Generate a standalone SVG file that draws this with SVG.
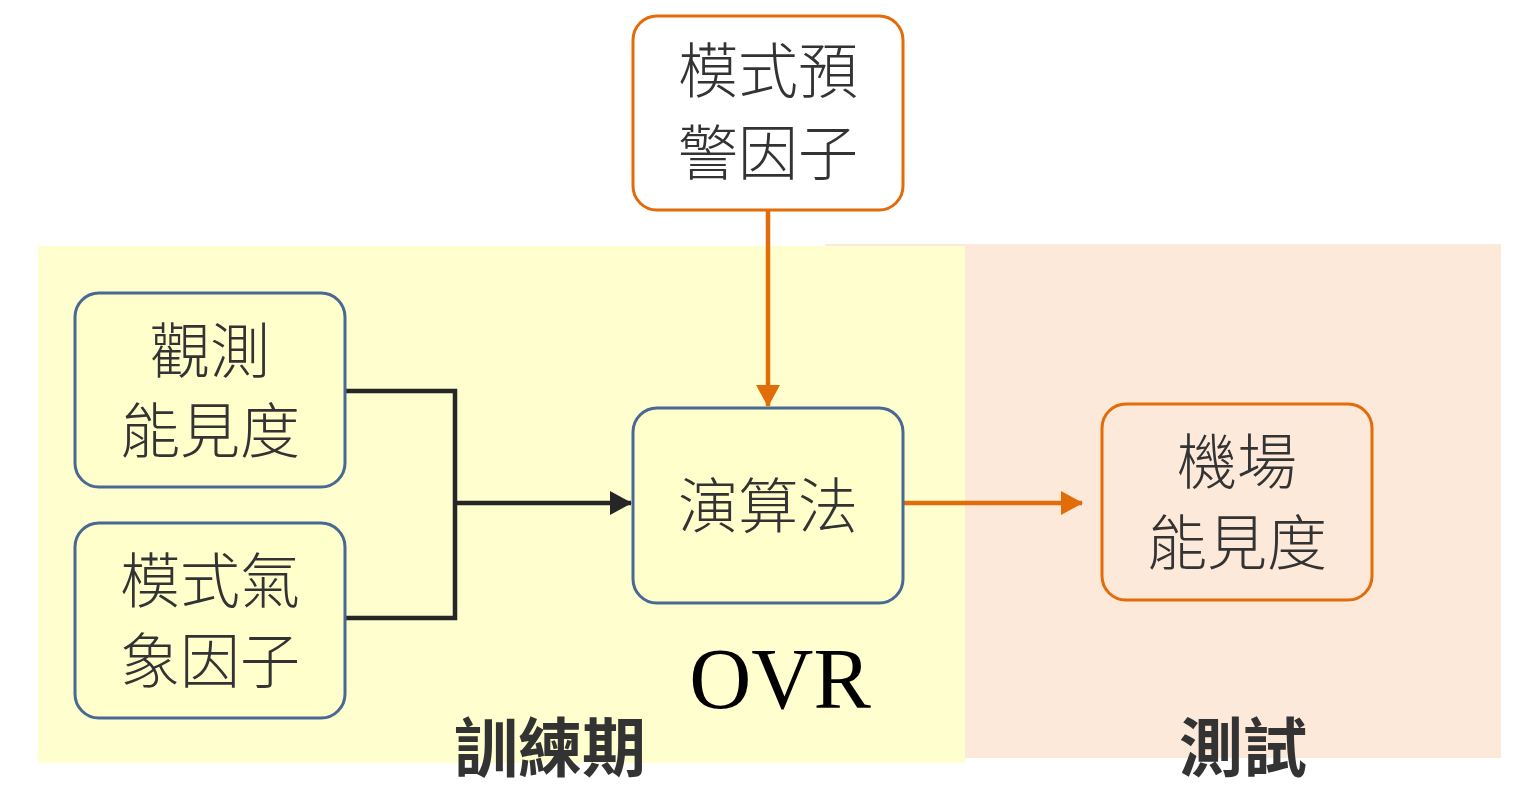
<svg xmlns="http://www.w3.org/2000/svg" width="1524" height="790" viewBox="0 0 1524 790">
<defs>
<style>
.cjk{font-family:"Noto Sans CJK TC","Noto Sans CJK SC",sans-serif;fill:#333333;text-anchor:middle}
.box{font-size:60px;font-weight:300}
.lbl{font-size:64px;font-weight:bold}
.blue{fill:#FFFFCC;stroke:#4A6894;stroke-width:3}
.orange{stroke:#E36C0A;stroke-width:3}
.blk{fill:none;stroke:#262626;stroke-width:4.5}
.org{fill:none;stroke:#E36C0A;stroke-width:4.5}
</style>
<marker id="ab" markerUnits="userSpaceOnUse" markerWidth="22" markerHeight="26" refX="21" refY="12" orient="auto" viewBox="0 0 22 24">
<path d="M0,0 L22,12 L0,24 z" fill="#262626"/>
</marker>
<marker id="ao" markerUnits="userSpaceOnUse" markerWidth="22" markerHeight="26" refX="21" refY="12" orient="auto" viewBox="0 0 22 24">
<path d="M0,0 L22,12 L0,24 z" fill="#E36C0A"/>
</marker>
</defs>
<rect width="1524" height="790" fill="#FFFFFF"/>
<g id="bg">
<rect x="825" y="244" width="676" height="514" fill="#FDE9DA"/>
<rect x="38" y="246" width="927" height="517" fill="#FEFECE"/>
</g>
<g id="connectors">
<path class="blk" d="M345,391 H455 V618 H345"/>
<path class="blk" d="M455,503 H631" marker-end="url(#ab)"/>
<path class="org" d="M768,210 V406" marker-end="url(#ao)"/>
<path class="org" d="M903,503 H1082" marker-end="url(#ao)"/>
</g>
<g id="n-warning">
<rect x="633" y="16" width="270" height="194" rx="24" fill="#FFFFFF" class="orange"/>
<text class="cjk box" x="768" y="93">模式預</text>
<text class="cjk box" x="768" y="175">警因子</text>
</g>
<g id="n-obs">
<rect x="75" y="293" width="270" height="194" rx="24" class="blue"/>
<text class="cjk box" x="210" y="373">觀測</text>
<text class="cjk box" x="210" y="453">能見度</text>
</g>
<g id="n-model">
<rect x="75" y="523" width="270" height="195" rx="24" class="blue"/>
<text class="cjk box" x="210" y="603">模式氣</text>
<text class="cjk box" x="210" y="683">象因子</text>
</g>
<g id="n-algo">
<rect x="633" y="408" width="270" height="195" rx="24" class="blue"/>
<text class="cjk box" x="768" y="528">演算法</text>
</g>
<g id="n-airport">
<rect x="1102" y="404" width="270" height="196" rx="24" fill="none" class="orange"/>
<text class="cjk box" x="1237" y="484">機場</text>
<text class="cjk box" x="1237" y="565">能見度</text>
</g>
<g id="labels">
<text x="780" y="708" font-family="Liberation Serif,serif" font-size="86" fill="#000000" text-anchor="middle">OVR</text>
<text class="cjk lbl" x="550" y="771">訓練期</text>
<text class="cjk lbl" x="1243" y="771">測試</text>
</g>
</svg>
